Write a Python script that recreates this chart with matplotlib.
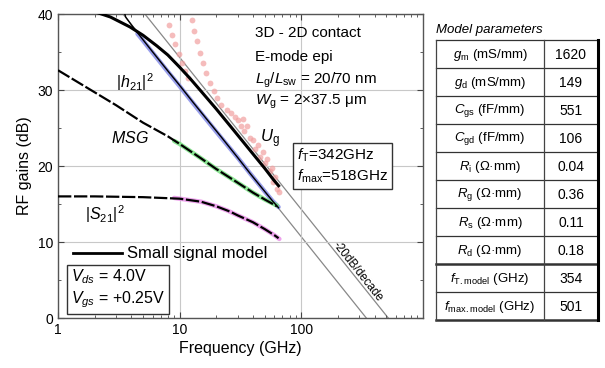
import numpy as np
import matplotlib.pyplot as plt
from matplotlib.ticker import FixedLocator, NullFormatter

plt.rcParams['font.family'] = ['Liberation Sans', 'DejaVu Sans']
plt.rcParams['mathtext.fontset'] = 'custom'
plt.rcParams['mathtext.rm'] = 'Liberation Sans'
plt.rcParams['mathtext.it'] = 'Liberation Sans:italic'

# extrinsic cut-off frequencies used for the -20 dB/decade guides (GHz)
f_t = 342
f_max = 518

# small signal model curves
f_ug = [1, 1.5, 2, 2.7, 3.9, 5, 6.5, 8, 10, 12.2, 14.7, 20, 27.5, 40, 50, 59, 65]
ug_model = [40.9, 40.7, 40.3, 39.6, 38.3, 37.2, 35.8, 34.6, 33.0, 31.5, 30.0, 27.5, 24.8,
            21.6, 19.7, 18.2, 17.4]

f_h21 = [3.4, 3.6, 4, 5, 6, 8, 10, 13, 17, 22, 30, 38, 48, 58, 65]
h21_model = [41.0, 39.6, 38.6, 36.6, 35.0, 32.5, 30.6, 28.3, 26.0, 23.8, 21.1, 19.0, 17.0, 15.4, 14.5]

f_msg = [1, 2, 3, 5, 5.7, 8, 10, 15, 20, 30, 40, 50, 63]
msg_model = [32.6, 29.7, 28.0, 25.7, 25.2, 23.9, 22.9, 21.0, 19.6, 17.8, 16.5, 15.6, 14.7]

f_s21 = [1, 2, 5, 10, 15, 20, 25, 27.5, 30, 40, 50, 60, 65]
s21_model = [16.0, 16.0, 15.9, 15.7, 15.3, 14.7, 14.1, 13.8, 13.5, 12.6, 11.7, 10.9, 10.5]

# measured data
f_h21_meas = [4.5, 5, 6, 8, 10, 13, 17, 22, 30, 38, 48, 58, 65]
h21_meas = [37.4, 36.5, 34.9, 32.4, 30.5, 28.2, 25.9, 23.7, 21.1, 19.0, 17.0, 15.4, 14.6]

f_msg_meas = [9, 10, 15, 20, 30, 40, 50, 63]
msg_meas = [23.3, 22.9, 21.0, 19.6, 17.8, 16.5, 15.6, 14.8]

f_s21_meas = [9, 10, 15, 20, 25, 30, 40, 50, 60, 66]
s21_meas = [15.8, 15.7, 15.3, 14.7, 14.1, 13.5, 12.6, 11.7, 10.9, 10.4]

f_ug_meas = [8.1, 8.6, 9.2, 9.8, 10.4, 11.0, 11.6,
             12.7, 13.2, 13.8, 14.7, 15.5, 16.5, 17.8, 19.0, 20.4, 22.0, 24.5, 26.5, 28.5,
             30, 32, 33, 34, 36, 38, 40, 42, 44, 46, 48, 50, 52, 55, 57, 59, 61, 63, 65]
ug_meas = [38.5, 37.3, 36.0, 34.7, 33.5, 32.5, 31.6,
           39.2, 37.8, 36.4, 34.9, 33.6, 32.2, 30.9, 29.9, 28.9, 28.0, 27.4, 27.0, 26.4,
           26.0, 25.2, 26.2, 24.6, 25.3, 23.7, 23.4, 22.2, 22.8, 21.2, 21.8, 20.4, 20.9,
           19.3, 19.8, 17.9, 18.6, 17.0, 16.6]

# model parameters table
param_names = [r'$g_\mathrm{m}$ (mS/mm)', r'$g_\mathrm{d}$ (mS/mm)', r'$C_\mathrm{gs}$ (fF/mm)',
               r'$C_\mathrm{gd}$ (fF/mm)', r'$R_\mathrm{i}$ ($\Omega$·mm)', r'$R_\mathrm{g}$ ($\Omega$·mm)',
               r'$R_\mathrm{s}$ ($\Omega$·mm)', r'$R_\mathrm{d}$ ($\Omega$·mm)',
               r'$f_\mathrm{T.model}$ (GHz)', r'$f_\mathrm{max.model}$ (GHz)']
param_values = ['1620', '149', '551', '106', '0.04', '0.36', '0.11', '0.18', '354', '501']

fig = plt.figure(figsize=(6.05, 3.68), dpi=100)
ax = fig.add_axes([58 / 605, 50 / 368, 365 / 605, 304 / 368])

# -20 dB/decade guide lines through fT and fmax
fg = np.array([1, 1000])
ax.plot(fg, 20 * np.log10(f_t / fg), color='#888888', lw=0.9, zorder=1)
ax.plot(fg, 20 * np.log10(f_max / fg), color='#888888', lw=0.9, zorder=1)

# measured curves
ax.plot(f_h21_meas, h21_meas, color='#7f86e6', lw=3.2, alpha=0.8, solid_capstyle='round', zorder=2)
ax.plot(f_msg_meas, msg_meas, color='#6fe07a', lw=3.2, alpha=0.8, solid_capstyle='round', zorder=2)
ax.plot(f_s21_meas, s21_meas, color='#e98ae8', lw=3.2, alpha=0.8, solid_capstyle='round', zorder=2)
ax.plot(f_ug_meas, ug_meas, 'o', color='#f2a0a0', ms=4.2, alpha=0.7, mec='none', zorder=2)

# model curves
ax.plot(f_ug, ug_model, color='black', lw=2.2, zorder=3)
ax.plot(f_h21, h21_model, color='black', lw=1.0, zorder=3)
ax.plot(f_msg, msg_model, color='black', lw=1.6, ls=(0, (6, 1.2)), zorder=3)
ax.plot(f_s21, s21_model, color='black', lw=1.6, ls=(0, (6, 1.2)), zorder=3)

ax.set_xscale('log')
ax.set_xlim(1, 1000)
ax.set_ylim(0, 40)
ax.xaxis.set_major_locator(FixedLocator([1, 10, 100]))
ax.set_xticklabels(['1', '10', '100'])
ax.xaxis.set_minor_locator(FixedLocator([m * d for d in [1, 10, 100] for m in range(2, 10)]))
ax.xaxis.set_minor_formatter(NullFormatter())
ax.set_yticks([0, 10, 20, 30, 40])
ax.set_yticks([5, 15, 25, 35], minor=True)
ax.tick_params(which='both', direction='in', top=True, right=True, labelsize=10, color='#444444')
ax.tick_params(which='major', length=4)
ax.tick_params(which='minor', length=2.5)
ax.grid(True, which='major', color='#c8c8c8', lw=0.8)
for s in ax.spines.values():
    s.set_color('#555555')
    s.set_linewidth(1.0)

ax.set_xlabel('Frequency (GHz)', fontsize=11.5, labelpad=3)
ax.set_ylabel('RF gains (dB)', fontsize=11.5, labelpad=4)

# annotations
ax.text(41.8, 37.5, '3D - 2D contact', fontsize=11, va='center')
ax.text(41.8, 34.4, 'E-mode epi', fontsize=11, va='center')
ax.text(41.8, 31.3, r'$L_\mathrm{g}/L_\mathrm{sw}$ = 20/70 nm', fontsize=11, va='center')
ax.text(41.8, 28.4, r'$W_\mathrm{g}$ = 2×37.5 μm', fontsize=11, va='center')
ax.text(46, 23.6, r'$U_\mathrm{g}$', fontsize=12, va='center')
ax.text(4.3, 31.0, r'$|h_\mathrm{21}|^2$', fontsize=11.5, va='center', ha='center')
ax.text(3.9, 23.7, r'$MSG$', fontsize=11.5, va='center', ha='center')
ax.text(2.44, 13.6, r'$|S_\mathrm{21}|^2$', fontsize=11.5, va='center', ha='center')
ax.text(92, 20.0, r'$f_\mathrm{T}$=342GHz' + '\n' + r'$f_\mathrm{max}$=518GHz', fontsize=11,
        va='center', linespacing=1.3,
        bbox=dict(boxstyle='square,pad=0.25', fc='white', ec='#333333', lw=1.0))
ax.text(1.27, 3.9, r'$V_{ds}$ = 4.0V' + '\n' + r'$V_{gs}$ = +0.25V', fontsize=11.5,
        va='center', linespacing=1.25,
        bbox=dict(boxstyle='square,pad=0.25', fc='white', ec='#333333', lw=1.0))
ax.plot([1.33, 3.36], [8.55, 8.55], color='black', lw=2)
ax.text(3.7, 8.55, 'Small signal model', fontsize=12, va='center')
ax.text(289, 6.05, '-20dB/decade', fontsize=8.5, rotation=-51.5, ha='center', va='center',
        rotation_mode='anchor')

# parameter table
tab = fig.add_axes([436 / 605, 48 / 368, 162 / 605, 280 / 368])
tab.set_xlim(0, 1)
tab.set_ylim(len(param_names), 0)
tab.axis('off')
tab.text(0.0, -0.37, 'Model parameters', fontsize=9.5, style='italic', va='center', ha='left')
for i in range(len(param_names) + 1):
    lw = 1.8 if i in (8, len(param_names)) else 0.9
    tab.plot([0, 1], [i, i], color='#333333', lw=lw, clip_on=False)
tab.plot([0, 0], [0, len(param_names)], color='#444444', lw=0.9, clip_on=False)
tab.plot([0.667, 0.667], [0, len(param_names)], color='#444444', lw=0.9, clip_on=False)
tab.plot([1, 1], [0, len(param_names)], color='black', lw=2.2, clip_on=False)
for i, (name, val) in enumerate(zip(param_names, param_values)):
    tab.text(0.333, i + 0.52, name, fontsize=9.5, ha='center', va='center')
    tab.text(0.833, i + 0.55, val, fontsize=10, ha='center', va='center')

fig.savefig('out.png', dpi=100)
